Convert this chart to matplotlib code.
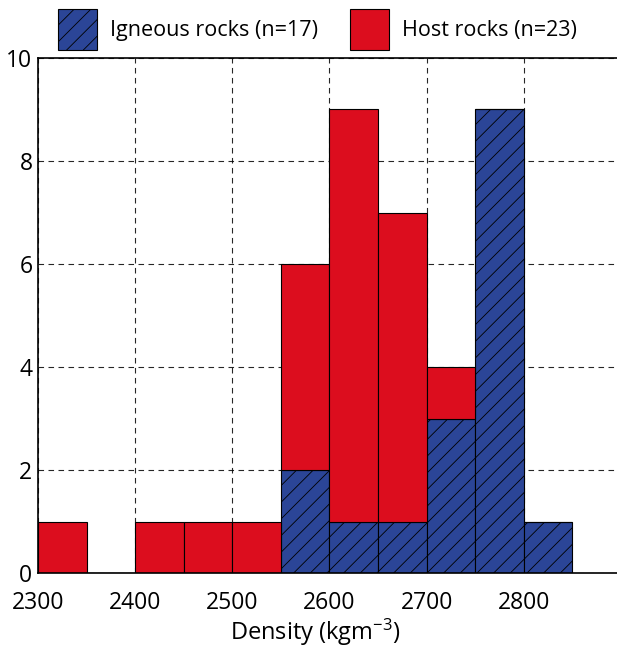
import numpy as np
import matplotlib.pyplot as plt

plt.rcParams['font.family'] = ['Open Sans', 'DejaVu Sans']
plt.rcParams['mathtext.default'] = 'regular'
plt.rcParams['hatch.linewidth'] = 0.6
plt.rcParams['hatch.color'] = 'black'

# Density bins (left edges, kg/m^3) and counts per bin
bin_left = [2300, 2350, 2400, 2450, 2500, 2550, 2600, 2650, 2700, 2750, 2800]
igneous = [0, 0, 0, 0, 0, 2, 1, 1, 3, 9, 1]
host = [1, 0, 1, 1, 1, 4, 8, 6, 1, 0, 0]
bin_width = 50

blue = '#2B4597'
red = '#DC0D1E'

fig = plt.figure(figsize=(6.17, 6.48), dpi=100)
ax = fig.add_axes([0.0616, 0.1157, 0.94, 0.7948])

ax.bar(bin_left, igneous, width=bin_width, align='edge', color=blue,
       edgecolor='black', linewidth=0.8, hatch='//', label='Igneous rocks (n=17)')
ax.bar(bin_left, host, width=bin_width, align='edge', bottom=igneous, color=red,
       edgecolor='black', linewidth=0.8, label='Host rocks (n=23)')

ax.set_xlim(2300, 2897)
ax.set_ylim(0, 10)
ax.set_xticks([2300, 2400, 2500, 2600, 2700, 2800])
ax.set_yticks([0, 2, 4, 6, 8, 10])
ax.tick_params(length=0, labelsize=16.5, pad=13)
ax.tick_params(axis='y', pad=4)
ax.spines['right'].set_visible(False)
for s in ['left', 'top', 'bottom']:
    ax.spines[s].set_linewidth(1.2)

ax.grid(True, color='black', linestyle=(0, (5, 4)), linewidth=0.8, alpha=0.85)
ax.set_axisbelow(True)

ax.set_xlabel(r'Density (kgm$^{-3}$)', fontsize=17)
ax.xaxis.set_label_coords(0.478, -0.085)

fig.legend(loc='upper left', bbox_to_anchor=(0.080, 1.0), ncol=2, frameon=False,
           fontsize=15.5, handlelength=1.8, handleheight=2.6, handletextpad=0.6,
           columnspacing=1.5, borderaxespad=0.0)

fig.savefig('out.png', dpi=100)
